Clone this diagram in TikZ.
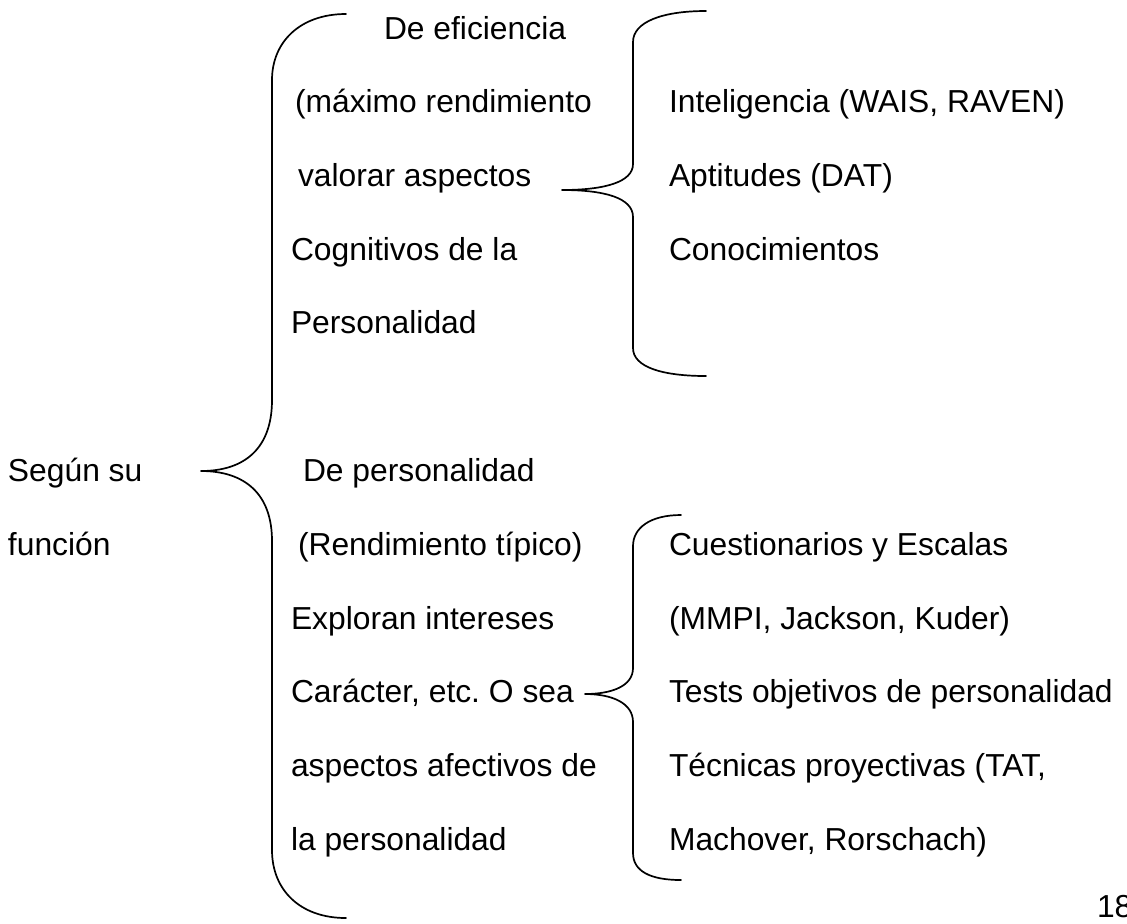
\documentclass[tikz,border=0pt]{standalone}
\usepackage{fontspec}
\setmainfont{Liberation Sans}
\begin{document}
\frenchspacing
\begin{tikzpicture}[x=0.5pt,y=-0.5pt,
  txt/.style={anchor=base west,inner sep=0pt,outer sep=0pt,font=\fontsize{15.9pt}{19pt}\selectfont},
  bracepath/.style={draw=black,line width=0.85pt,line join=round,line cap=round}]
\useasboundingbox (0,0) rectangle (1127,923);
\clip (0,0) rectangle (1127,923);
% left label
\node[txt] (seg) at (8,481) {Según su};
\node[txt] (fun) at (8,555) {función};
% upper middle column
\node[txt] (e0) at (384,39) {De eficiencia};
\node[txt] (e1) at (295,112) {(máximo rendimiento};
\node[txt] (e2) at (298,186) {valorar aspectos};
\node[txt] (e3) at (291,260) {Cognitivos de la};
\node[txt] (e4) at (291,333) {Personalidad};
% lower middle column
\node[txt] (p0) at (303,481) {De personalidad};
\node[txt] (p1) at (298,555) {(Rendimiento típico)};
\node[txt] (p2) at (291,629) {Exploran intereses};
\node[txt] (p3) at (291,702) {Carácter, etc. O sea};
\node[txt] (p4) at (291,776) {aspectos afectivos de};
\node[txt] (p5) at (291,850) {la personalidad};
% upper right column
\node[txt] (r1) at (669,112) {Inteligencia (WAIS, RAVEN)};
\node[txt] (r2) at (669,186) {Aptitudes (DAT)};
\node[txt] (r3) at (669,260) {Conocimientos};
% lower right column
\node[txt] (q1) at (669,555) {Cuestionarios y Escalas};
\node[txt] (q2) at (669,629) {(MMPI, Jackson, Kuder)};
\node[txt] (q3) at (669,702) {Tests objetivos de personalidad};
\node[txt] (q4) at (669,776) {Técnicas proyectivas (TAT,};
\node[txt] (q5) at (669,850) {Machover, Rorschach)};
% page number
\node[txt] (pg) at (1097,917) {18};
% brace tips
\coordinate (tipA) at (201,471);
\coordinate (tipB) at (562,190);
\coordinate (tipC) at (585,694);
% big brace
\path[bracepath] (346,14) .. controls (300,14) and (272,42) .. (272,80)
  -- (272,400) .. controls (272,448) and (245,471) .. (tipA)
  .. controls (245,471) and (272,494) .. (272,541)
  -- (272,850) .. controls (272,890) and (300,918) .. (346,918);
% upper sub brace
\path[bracepath] (706,11) .. controls (662,11) and (633,22) .. (633,42)
  -- (633,164) .. controls (633,182) and (605,190) .. (tipB)
  .. controls (605,190) and (633,198) .. (633,217)
  -- (633,348) .. controls (633,367) and (662,376) .. (706,376);
% lower sub brace
\path[bracepath] (681,515) .. controls (650,515) and (633,528) .. (633,546)
  -- (633,668) .. controls (633,686) and (612,694) .. (tipC)
  .. controls (612,694) and (633,703) .. (633,722)
  -- (633,853) .. controls (633,871) and (650,880) .. (681,880);
\end{tikzpicture}
\end{document}
